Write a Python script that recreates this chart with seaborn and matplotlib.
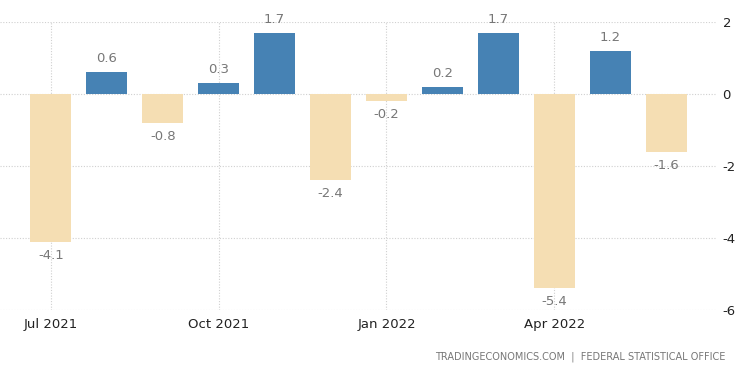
import pandas as pd
import matplotlib.pyplot as plt
import seaborn as sns

months = ["Jul 2021", "Aug 2021", "Sep 2021", "Oct 2021", "Nov 2021", "Dec 2021",
          "Jan 2022", "Feb 2022", "Mar 2022", "Apr 2022", "May 2022", "Jun 2022"]
values = [-4.1, 0.6, -0.8, 0.3, 1.7, -2.4, -0.2, 0.2, 1.7, -5.4, 1.2, -1.6]
tick_months = ["Jul 2021", "Oct 2021", "Jan 2022", "Apr 2022"]
y_ticks = [2, 0, -2, -4, -6]

df = pd.DataFrame({"month": months, "value": values})
df["sign"] = ["pos" if v >= 0 else "neg" for v in values]

sns.set_style("white")
plt.rcParams["font.family"] = ["DejaVu Sans"]
plt.rcParams["axes.unicode_minus"] = False

fig = plt.figure(figsize=(7.5, 3.73), dpi=100)
ax = fig.add_axes([0.0, 0.169, 0.956, 0.772])

sns.barplot(data=df, x="month", y="value", hue="sign",
            palette={"pos": "#4682b4", "neg": "#f5deb3"}, saturation=1,
            dodge=False, width=0.73, linewidth=0, legend=False, ax=ax, zorder=3)

for i, v in enumerate(values):
    if v >= 0:
        ax.annotate(f"{v}", (i, v), xytext=(0, 5), textcoords="offset points",
                    ha="center", va="bottom", fontsize=9.5, color="#777777", zorder=4)
    else:
        ax.annotate(f"{v}", (i, v), xytext=(0, -5), textcoords="offset points",
                    ha="center", va="top", fontsize=9.5, color="#777777", zorder=4)

ax.set_xlim(-0.91, 11.91)
ax.set_ylim(-6, 2)
ax.set_yticks(y_ticks)
ax.yaxis.tick_right()
ax.tick_params(axis="y", length=0, pad=4, labelsize=9.5, labelcolor="#222222")
ax.set_xticks([months.index(m) for m in tick_months])
ax.set_xticklabels(tick_months)
ax.tick_params(axis="x", length=0, pad=6, labelsize=9.5, labelcolor="#222222")
ax.set_xlabel("")
ax.set_ylabel("")

ax.grid(True, axis="both", linestyle=(0, (1, 1.5)), color="#d0d0d0", linewidth=0.8, zorder=0)
ax.set_axisbelow(True)
for s in ax.spines.values():
    s.set_visible(False)

fig.text(0.967, 0.043, "TRADINGECONOMICS.COM  |  FEDERAL STATISTICAL OFFICE",
         ha="right", va="center", fontsize=7, color="#777777")

fig.savefig("out.png", dpi=100)
